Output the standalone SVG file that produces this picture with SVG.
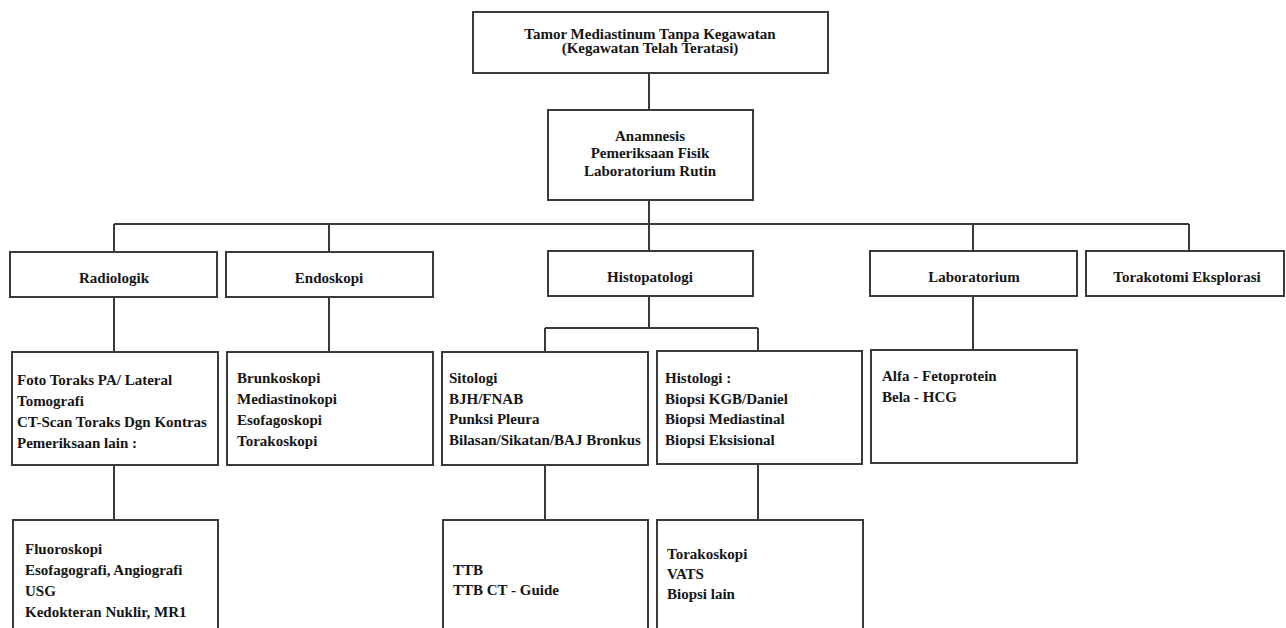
<svg xmlns="http://www.w3.org/2000/svg" width="1286" height="628" viewBox="0 0 1286 628">
  <style>
    .box { fill: #ffffff; stroke: #3a3a3a; stroke-width: 2; }
    .wire { fill: none; stroke: #3a3a3a; stroke-width: 2; }
    text { font-family: "Liberation Serif", "Times New Roman", serif; font-weight: bold; font-size: 15px; fill: #151515; }
    .c { text-anchor: middle; }
  </style>
  <rect width="1286" height="628" fill="#ffffff"/>

  <!-- connectors -->
  <g id="connectors">
    <path class="wire" d="M649 73 V110"/>
    <path class="wire" d="M649 200 V224 M114 224 H1189 M114 224 V252 M329 224 V252 M649 224 V251 M973 224 V251 M1189 224 V251"/>
    <path class="wire" d="M114 297 V352 M329 297 V352"/>
    <path class="wire" d="M649 296 V328 M545 328 H758 M545 328 V352 M758 328 V351"/>
    <path class="wire" d="M973 296 V350"/>
    <path class="wire" d="M114 465 V520 M545 465 V520 M758 464 V520"/>
  </g>

  <!-- top level -->
  <g id="tumor">
    <rect class="box" x="473" y="12" width="355" height="61"/>
    <text class="c" x="650" y="39">Tamor Mediastinum Tanpa Kegawatan</text>
    <text class="c" x="650" y="53">(Kegawatan Telah Teratasi)</text>
  </g>
  <g id="anamnesis">
    <rect class="box" x="548" y="110" width="205" height="90"/>
    <text class="c" x="650" y="141">Anamnesis</text>
    <text class="c" x="650" y="158">Pemeriksaan Fisik</text>
    <text class="c" x="650" y="176">Laboratorium Rutin</text>
  </g>

  <!-- categories -->
  <g id="radiologik">
    <rect class="box" x="10" y="252" width="207" height="45"/>
    <text class="c" x="114" y="283">Radiologik</text>
  </g>
  <g id="endoskopi">
    <rect class="box" x="226" y="252" width="207" height="45"/>
    <text class="c" x="329" y="283">Endoskopi</text>
  </g>
  <g id="histopatologi">
    <rect class="box" x="548" y="251" width="205" height="45"/>
    <text class="c" x="650" y="282">Histopatologi</text>
  </g>
  <g id="laboratorium">
    <rect class="box" x="870" y="251" width="207" height="45"/>
    <text class="c" x="974" y="282">Laboratorium</text>
  </g>
  <g id="torakotomi">
    <rect class="box" x="1086" y="251" width="198" height="45"/>
    <text class="c" x="1187" y="282">Torakotomi Eksplorasi</text>
  </g>

  <!-- examination lists -->
  <g id="radiologik-list">
    <rect class="box" x="12" y="352" width="206" height="113"/>
    <text x="17" y="385">Foto Toraks PA/ Lateral</text>
    <text x="17" y="406">Tomografi</text>
    <text x="17" y="427">CT-Scan Toraks Dgn Kontras</text>
    <text x="17" y="448">Pemeriksaan lain :</text>
  </g>
  <g id="endoskopi-list">
    <rect class="box" x="227" y="352" width="206" height="113"/>
    <text x="237" y="383">Brunkoskopi</text>
    <text x="237" y="404">Mediastinokopi</text>
    <text x="237" y="425">Esofagoskopi</text>
    <text x="237" y="446">Torakoskopi</text>
  </g>
  <g id="sitologi">
    <rect class="box" x="442" y="352" width="206" height="113"/>
    <text x="449" y="383">Sitologi</text>
    <text x="449" y="404">BJH/FNAB</text>
    <text x="449" y="424">Punksi Pleura</text>
    <text x="449" y="445">Bilasan/Sikatan/BAJ Bronkus</text>
  </g>
  <g id="histologi">
    <rect class="box" x="657" y="351" width="205" height="113"/>
    <text x="665" y="383">Histologi :</text>
    <text x="665" y="404">Biopsi KGB/Daniel</text>
    <text x="665" y="424">Biopsi Mediastinal</text>
    <text x="665" y="445">Biopsi Eksisional</text>
  </g>
  <g id="laboratorium-list">
    <rect class="box" x="871" y="350" width="206" height="113"/>
    <text x="882" y="381">Alfa - Fetoprotein</text>
    <text x="882" y="402">Bela - HCG</text>
  </g>

  <!-- further procedures -->
  <g id="radiologik-lain">
    <rect class="box" x="13" y="520" width="205" height="120"/>
    <text x="25" y="554">Fluoroskopi</text>
    <text x="25" y="575">Esofagografi, Angiografi</text>
    <text x="25" y="596">USG</text>
    <text x="25" y="617">Kedokteran Nuklir, MR1</text>
  </g>
  <g id="ttb">
    <rect class="box" x="443" y="520" width="205" height="120"/>
    <text x="453" y="575">TTB</text>
    <text x="453" y="595">TTB CT - Guide</text>
  </g>
  <g id="torakoskopi">
    <rect class="box" x="657" y="520" width="206" height="120"/>
    <text x="667" y="559">Torakoskopi</text>
    <text x="667" y="579">VATS</text>
    <text x="667" y="599">Biopsi lain</text>
  </g>
</svg>
